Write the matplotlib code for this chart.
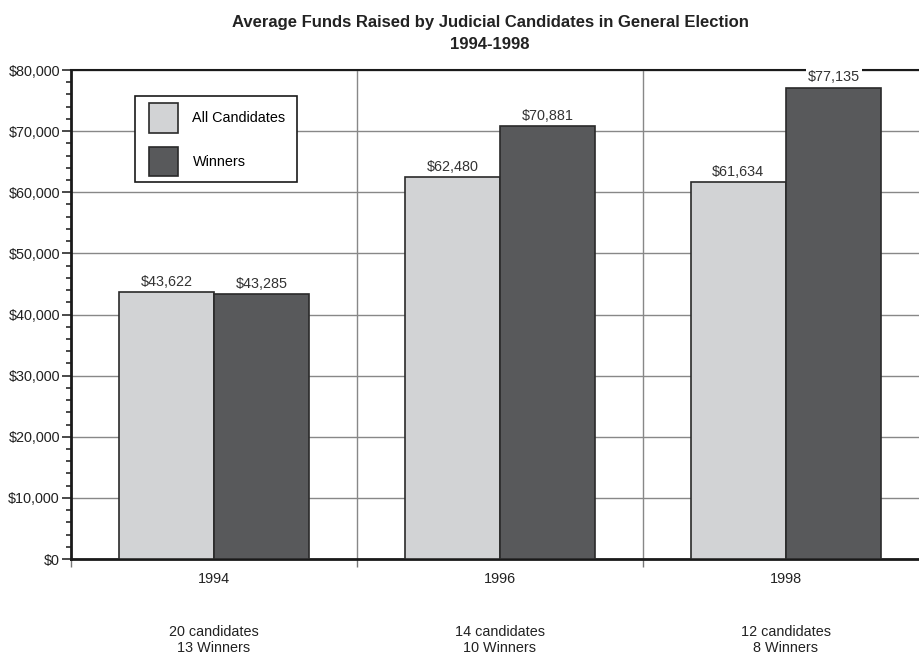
import matplotlib
matplotlib.use("Agg")
import matplotlib.pyplot as plt
import numpy as np
from matplotlib.patches import Patch, Rectangle
from matplotlib.ticker import MultipleLocator, FuncFormatter

plt.rcParams['font.family'] = ['Liberation Sans', 'DejaVu Sans']

years = ["1994", "1996", "1998"]
all_candidates = [43622, 62480, 61634]
winners = [43285, 70881, 77135]
candidate_counts = ["20 candidates", "14 candidates", "12 candidates"]
winner_counts = ["13 Winners", "10 Winners", "8 Winners"]
title_lines = ["Average Funds Raised by Judicial Candidates in General Election", "1994-1998"]

light = "#d2d3d5"
dark = "#58595b"
edge = "#2a2a2a"
fs = 10.4

W, H = 920, 654
AX_L, AX_R, AX_T, AX_B = 71, 929, 70, 559

fig = plt.figure(figsize=(W / 100, H / 100), dpi=100)
ax = fig.add_axes([AX_L / W, (H - AX_B) / H, (AX_R - AX_L) / W, (AX_B - AX_T) / H])


def ax_frac(px, py):
    return (px - AX_L) / (AX_R - AX_L), (AX_B - py) / (AX_B - AX_T)


x = np.arange(len(years))
w = 1/3
ax.bar(x - w/2, all_candidates, w, color=light, edgecolor=edge, linewidth=1.2, zorder=3)
ax.bar(x + w/2, winners, w, color=dark, edgecolor=edge, linewidth=1.2, zorder=3)

for xi, v in zip(x - w/2, all_candidates):
    ax.text(xi, v + 500, f"${v:,}", ha='center', va='bottom', fontsize=fs, color="#333333", zorder=5)
for xi, v in zip(x + w/2, winners):
    ax.text(xi, v + 500, f"${v:,}", ha='center', va='bottom', fontsize=fs, color="#333333", zorder=5,
            bbox=dict(facecolor='white', edgecolor='none', pad=1.5))

ax.set_xlim(-0.5, 2.5)
ax.set_ylim(0, 80000)
ax.yaxis.set_major_locator(MultipleLocator(10000))
ax.yaxis.set_minor_locator(MultipleLocator(2000))
ax.yaxis.set_major_formatter(FuncFormatter(lambda v, p: f"${int(v):,}"))
ax.tick_params(axis='y', which='major', length=6.5, width=1.2, color=edge, labelsize=10.4, labelcolor="#222222", pad=1.5)
ax.tick_params(axis='y', which='minor', length=3.6, width=1.2, color=edge)

ax.set_xticks(x)
ax.set_xticklabels(years)
ax.set_xticks([-0.5, 0.5, 1.5], minor=True)
ax.tick_params(axis='x', which='major', length=0, labelsize=fs, labelcolor="#222222", pad=9.5)
ax.tick_params(axis='x', which='minor', length=5.8, width=1, color="#777777")

ax.grid(True, axis='y', which='major', color="#888888", linewidth=1, zorder=0)
for b in [0.5, 1.5]:
    ax.axvline(b, color="#888888", linewidth=1, zorder=0)

for s in ['left', 'bottom']:
    ax.spines[s].set_linewidth(2)
    ax.spines[s].set_color("#1a1a1a")
ax.spines['top'].set_linewidth(1.5)
ax.spines['top'].set_color("#1a1a1a")
ax.spines['right'].set_visible(False)

xt = ax.get_xaxis_transform()
for xi, c1, c2 in zip(x, candidate_counts, winner_counts):
    ax.text(xi, -(636 - AX_B) / (AX_B - AX_T), c1, transform=xt,
            ha='center', va='baseline', fontsize=fs, color="#222222")
    ax.text(xi, -(651.5 - AX_B) / (AX_B - AX_T), c2, transform=xt,
            ha='center', va='baseline', fontsize=fs, color="#222222")

# legend frame
fx0, fy0 = ax_frac(135.5, 182)
fx1, fy1 = ax_frac(297, 96)
ax.add_patch(Rectangle((fx0, fy0), fx1 - fx0, fy1 - fy0, transform=ax.transAxes,
                       facecolor='white', edgecolor="#1a1a1a", linewidth=1.2, zorder=5))

handles = [Patch(facecolor=light, edgecolor=edge, linewidth=1.2),
           Patch(facecolor=dark, edgecolor=edge, linewidth=1.2)]
lx, ly = ax_frac(149, 103)
leg = ax.legend(handles, ["All Candidates", "Winners"], loc='upper left',
                bbox_to_anchor=(lx, ly), frameon=False, fontsize=fs,
                handlelength=2.04, handleheight=2.8,
                borderpad=0, labelspacing=0.95, handletextpad=0.97, borderaxespad=0)
leg.set_zorder(6)

fig.text(490 / W, 1 - 27 / H, title_lines[0], ha='center', va='baseline',
         fontsize=12, fontweight='bold', color="#222222")
fig.text(490 / W, 1 - 49.3 / H, title_lines[1], ha='center', va='baseline',
         fontsize=12, fontweight='bold', color="#222222")

fig.savefig("out.png", dpi=100)
